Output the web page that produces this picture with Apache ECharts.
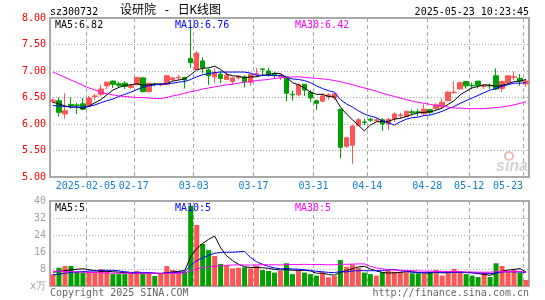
<!DOCTYPE html>
<html><head><meta charset="utf-8">
<script src="https://cdn.jsdelivr.net/npm/echarts@6/dist/echarts.min.js"></script>
<style>html,body{margin:0;padding:0;background:#fff}#c{width:545px;height:300px}</style>
</head><body><div id="c"></div>
<script>
const dates = ['2025-01-20','2025-01-21','2025-01-22','2025-01-23','2025-01-24','2025-01-27',
'2025-02-05','2025-02-06','2025-02-07','2025-02-10','2025-02-11','2025-02-12','2025-02-13','2025-02-14',
'2025-02-17','2025-02-18','2025-02-19','2025-02-20','2025-02-21','2025-02-24','2025-02-25','2025-02-26','2025-02-27','2025-02-28',
'2025-03-03','2025-03-04','2025-03-05','2025-03-06','2025-03-07','2025-03-10','2025-03-11','2025-03-12','2025-03-13','2025-03-14',
'2025-03-17','2025-03-18','2025-03-19','2025-03-20','2025-03-21','2025-03-24','2025-03-25','2025-03-26','2025-03-27','2025-03-28',
'2025-03-31','2025-04-01','2025-04-02','2025-04-03','2025-04-07','2025-04-08','2025-04-09','2025-04-10','2025-04-11',
'2025-04-14','2025-04-15','2025-04-16','2025-04-17','2025-04-18','2025-04-21','2025-04-22','2025-04-23','2025-04-24','2025-04-25',
'2025-04-28','2025-04-29','2025-04-30','2025-05-06','2025-05-07','2025-05-08','2025-05-09',
'2025-05-12','2025-05-13','2025-05-14','2025-05-15','2025-05-16','2025-05-19','2025-05-20','2025-05-21','2025-05-22','2025-05-23'];

const opens = [6.43,6.44,6.19,6.37,6.36,6.38,6.35,6.52,6.56,6.72,
6.81,6.76,6.77,6.69,6.74,6.87,6.61,6.76,6.74,6.75,
6.84,6.87,6.88,7.24,7.03,7.19,7.02,6.89,6.94,6.84,
6.80,6.87,6.89,6.79,6.93,7.04,7.00,6.95,6.89,6.89,
6.56,6.55,6.75,6.60,6.44,6.43,6.52,6.50,6.28,5.58,
5.60,5.97,6.04,6.09,6.06,6.08,6.00,6.10,6.16,6.14,
6.23,6.23,6.19,6.27,6.29,6.33,6.44,6.59,6.66,6.80,
6.73,6.81,6.71,6.73,6.91,6.67,6.78,6.88,6.86,6.76];
const closes = [6.45,6.22,6.25,6.35,6.35,6.28,6.49,6.53,6.66,6.79,
6.75,6.73,6.71,6.72,6.88,6.61,6.77,6.75,6.76,6.91,
6.87,6.88,6.83,7.16,7.34,7.06,6.91,6.97,6.86,6.92,
6.87,6.90,6.80,6.94,6.95,7.03,6.94,6.92,6.91,6.58,
6.55,6.74,6.64,6.49,6.39,6.53,6.55,6.57,5.56,5.74,
5.96,6.08,6.03,6.07,6.08,6.00,6.09,6.19,6.17,6.24,
6.21,6.22,6.28,6.22,6.36,6.41,6.60,6.60,6.78,6.72,
6.72,6.73,6.73,6.72,6.66,6.80,6.91,6.89,6.81,6.81];
const lows = [6.39,6.14,6.10,6.29,6.19,6.26,6.33,6.45,6.52,6.66,
6.68,6.68,6.66,6.66,6.73,6.60,6.60,6.71,6.71,6.73,
6.80,6.83,6.67,7.06,7.02,6.96,6.74,6.78,6.77,6.82,
6.74,6.84,6.69,6.72,6.89,6.90,6.89,6.87,6.83,6.43,
6.44,6.52,6.53,6.41,6.27,6.41,6.46,6.45,5.35,5.55,
5.25,5.96,5.98,6.04,6.04,5.87,5.89,6.04,6.10,6.13,
6.16,6.15,6.18,6.18,6.27,6.30,6.43,6.58,6.66,6.67,
6.66,6.67,6.66,6.66,6.64,6.60,6.74,6.83,6.72,6.70];
const highs = [6.48,6.50,6.58,6.50,6.40,6.49,6.53,6.57,6.74,6.80,
6.82,6.80,6.81,6.76,6.89,6.89,6.78,6.78,6.78,6.92,
6.89,6.93,6.89,7.86,7.38,7.26,7.05,7.05,7.00,6.99,
6.89,6.92,6.92,6.94,7.06,7.04,7.06,6.97,6.94,6.89,
6.63,6.77,6.75,6.64,6.46,6.58,6.58,6.58,6.28,5.75,
5.99,6.11,6.10,6.12,6.11,6.11,6.11,6.22,6.21,6.25,
6.27,6.28,6.37,6.27,6.39,6.48,6.62,6.80,6.80,6.80,
6.78,6.81,6.75,6.76,7.05,6.82,6.91,6.99,6.94,6.84];

const ma5 = [6.41,6.38,6.34,6.32,6.32,6.29,6.34,6.40,6.46,6.55,
6.64,6.69,6.73,6.74,6.76,6.73,6.74,6.75,6.75,6.76,
6.81,6.83,6.85,6.93,7.02,7.05,7.06,7.09,7.03,6.94,
6.91,6.90,6.87,6.89,6.89,6.92,6.93,6.96,6.95,6.88,
6.78,6.74,6.68,6.60,6.56,6.56,6.52,6.51,6.32,6.19,
6.08,5.98,5.87,5.98,6.04,6.05,6.05,6.09,6.11,6.14,
6.18,6.21,6.22,6.23,6.26,6.30,6.37,6.44,6.55,6.62,
6.68,6.71,6.74,6.73,6.71,6.73,6.76,6.80,6.81,6.84];
const ma10 = [6.35,6.34,6.33,6.32,6.32,6.32,6.33,6.36,6.40,6.44,
6.47,6.52,6.56,6.60,6.65,6.69,6.72,6.74,6.75,6.76,
6.77,6.79,6.80,6.84,6.89,6.93,6.95,6.97,6.98,6.98,
6.98,6.98,6.98,6.96,6.92,6.92,6.92,6.91,6.92,6.88,
6.85,6.84,6.82,6.78,6.72,6.67,6.63,6.60,6.46,6.38,
6.32,6.25,6.19,6.15,6.12,6.06,6.02,5.98,6.04,6.09,
6.12,6.13,6.16,6.17,6.20,6.24,6.29,6.33,6.39,6.44,
6.49,6.54,6.59,6.64,6.67,6.71,6.74,6.77,6.77,6.78];
const ma30 = [6.98,6.93,6.88,6.83,6.78,6.73,6.68,6.64,6.60,6.57,
6.55,6.53,6.52,6.51,6.50,6.50,6.49,6.48,6.48,6.50,
6.53,6.55,6.58,6.61,6.63,6.66,6.68,6.70,6.72,6.74,
6.75,6.77,6.79,6.80,6.82,6.83,6.84,6.86,6.87,6.88,
6.89,6.89,6.88,6.87,6.86,6.85,6.84,6.82,6.80,6.77,
6.74,6.71,6.68,6.65,6.62,6.58,6.55,6.52,6.49,6.46,
6.43,6.41,6.39,6.37,6.35,6.34,6.32,6.30,6.30,6.29,
6.29,6.29,6.29,6.30,6.31,6.32,6.34,6.36,6.39,6.42];

const volumes = [5.5,8.6,9.4,9.4,6.7,6.4,6.7,6.7,8.0,6.7,
5.6,5.6,5.6,6.0,7.1,5.6,6.0,4.7,5.6,9.4,
7.5,7.1,6.7,37.8,28.7,19.8,16.9,14.1,10.4,9.6,
8.3,8.6,8.8,8.3,9.6,7.5,7.1,6.3,7.1,10.7,
5.6,7.5,6.3,5.6,4.9,6.3,4.1,4.7,12.2,9.1,
10.2,8.6,6.3,5.6,4.9,6.4,7.5,6.7,6.7,6.4,
6.0,6.0,6.0,6.7,7.5,4.9,6.4,8.0,6.4,5.6,
4.9,4.2,6.3,4.2,10.7,9.4,7.1,7.5,6.3,2.8];
const volMa5 = [6.5,6.8,7.2,7.6,7.9,8.1,7.7,7.2,6.9,6.9,
6.7,6.5,6.3,5.9,6.0,6.0,6.1,5.9,5.8,6.3,
6.6,6.9,7.3,13.7,17.6,20.0,22.0,23.5,18.0,14.2,
11.9,10.2,9.1,8.7,8.7,8.6,8.3,7.8,7.5,7.7,
7.4,7.4,7.4,7.1,6.0,6.1,5.4,5.1,6.4,7.3,
8.1,9.0,9.3,8.0,7.1,6.4,6.1,6.2,6.4,6.7,
6.7,6.4,6.2,6.2,6.4,6.2,6.3,6.7,6.6,6.3,
6.3,5.8,5.5,5.0,6.1,7.0,7.5,7.8,8.2,6.6];
const volMa10 = [5.2,5.6,6.0,6.4,6.6,6.8,7.0,7.1,7.3,7.4,
7.4,7.1,6.7,6.4,6.4,6.4,6.3,6.1,5.9,6.1,
6.3,6.5,6.6,9.8,11.9,13.3,14.4,15.4,15.8,15.9,
15.9,16.1,16.3,13.4,11.4,10.2,9.2,8.5,8.1,8.2,
8.0,7.9,7.6,7.3,6.9,6.7,6.4,6.3,6.8,6.6,
7.1,7.2,7.2,7.2,7.2,7.2,7.6,7.8,7.2,6.9,
6.5,6.3,6.2,6.3,6.6,6.4,6.3,6.5,6.4,6.4,
6.2,6.1,6.1,5.8,6.2,6.6,6.7,6.6,6.6,6.3];
const volMa30 = [7.0,6.9,6.8,6.7,6.6,6.5,6.4,6.3,6.2,6.1,
6.0,6.0,6.0,6.0,6.0,6.0,6.0,6.0,6.0,6.0,
6.0,6.0,6.1,7.2,8.1,8.6,9.0,9.3,9.5,9.7,
9.9,9.9,9.9,9.8,9.9,10.0,10.0,10.0,9.9,10.1,
10.1,10.1,10.2,10.1,10.1,10.1,10.0,10.0,10.3,10.2,
10.3,10.4,10.4,9.3,8.5,8.1,7.7,7.5,7.4,7.3,
7.2,7.1,7.0,7.0,6.9,6.8,6.8,6.8,6.8,6.6,
6.6,6.5,6.5,6.5,6.7,6.8,6.9,6.9,6.8,6.5];

const labelIdx = [6,14,24,34,44,53,63,70,79];
const priceTicks = {min:5, max:8, interval:0.5};
const volTicks = {min:0, max:40, interval:8};

const MONO = "'DejaVu Sans Mono', monospace";
const UP = '#ff5555', DOWN = '#00a000';
const isTick = (i) => labelIdx.indexOf(i) >= 0;

const candleData = opens.map((o, i) => [o, closes[i], lows[i], highs[i]]);
const volData = volumes.map((v, i) => ({value: v, itemStyle: {color: closes[i] >= opens[i] ? UP : DOWN}}));

const vSplit = {show: true, interval: (i) => isTick(i), lineStyle: {color: '#aaa', width: 1, type: [4, 3]}};
const hSplit = {show: true, lineStyle: {color: '#aaa', width: 1, type: [1, 2]}};
const line = (name, data, color, xi, yi) => ({
  name, type: 'line', data, xAxisIndex: xi, yAxisIndex: yi, symbol: 'none', showSymbol: false,
  lineStyle: {color, width: 1}, z: 5, silent: true
});

const chart = echarts.init(document.getElementById('c'), null, {renderer: 'canvas'});
chart.setOption({
  animation: false,
  backgroundColor: '#fff',
  grid: [
    {left: 50, top: 18, width: 479, height: 159, show: true, borderColor: '#a8a8a8', borderWidth: 2, backgroundColor: 'transparent'},
    {left: 50, top: 201, width: 479, height: 85, show: true, borderColor: '#a8a8a8', borderWidth: 2, backgroundColor: 'transparent'}
  ],
  xAxis: [
    {type: 'category', gridIndex: 0, data: dates, boundaryGap: true,
     axisLine: {show: false}, axisTick: {show: false}, splitLine: vSplit,
     axisLabel: {show: true, interval: (i) => isTick(i), margin: 4,
       formatter: (v, i) => i === 6 ? '{a|' + v + '}' : (i === 79 ? '{b|' + v.slice(5) + '}' : '{a|' + v.slice(5) + '}'),
       rich: {
         a: {padding: [0, 6, 0, 0], color: '#1080d0', fontFamily: MONO, fontSize: 10},
         b: {padding: [0, 36, 0, 0], color: '#1080d0', fontFamily: MONO, fontSize: 10}
       }}},
    {type: 'category', gridIndex: 1, data: dates, boundaryGap: true,
     axisLine: {show: false}, axisTick: {show: false}, axisLabel: {show: false}, splitLine: vSplit}
  ],
  yAxis: [
    {type: 'value', gridIndex: 0, min: priceTicks.min, max: priceTicks.max, interval: priceTicks.interval,
     axisLine: {show: false}, axisTick: {show: false}, splitLine: hSplit,
     axisLabel: {color: '#ff0000', fontFamily: MONO, fontSize: 10, margin: 4, formatter: (v) => v.toFixed(2)}},
    {type: 'value', gridIndex: 1, min: volTicks.min, max: volTicks.max, interval: volTicks.interval,
     axisLine: {show: false}, axisTick: {show: false}, splitLine: hSplit,
     axisLabel: {color: '#a0a0a0', fontFamily: MONO, fontSize: 10, margin: 4, formatter: (v) => v === 0 ? 'x万' : String(v)}}
  ],
  series: [
    {type: 'candlestick', xAxisIndex: 0, yAxisIndex: 0, data: candleData, barWidth: 5, silent: true,
     itemStyle: {color: UP, color0: DOWN, borderColor: UP, borderColor0: DOWN, borderWidth: 1}},
    line('MA5', ma5, '#000000', 0, 0),
    line('MA10', ma10, '#0000ff', 0, 0),
    line('MA30', ma30, '#ff00ff', 0, 0),
    {type: 'bar', xAxisIndex: 1, yAxisIndex: 1, data: volData, barWidth: 5, silent: true},
    line('VMA5', volMa5, '#000000', 1, 1),
    line('VMA10', volMa10, '#0000ff', 1, 1),
    line('VMA30', volMa30, '#ff00ff', 1, 1)
  ],
  graphic: [
    {type: 'text', x: 50, y: 12, style: {text: 'sz300732', fill: '#000', font: '10px ' + MONO, align: 'left', verticalAlign: 'middle'}},
    {type: 'text', x: 120, y: 11, style: {text: '设研院 - 日K线图', fill: '#000', font: "12px 'DejaVu Sans Mono', 'Noto Sans CJK SC'", align: 'left', verticalAlign: 'middle'}},
    {type: 'text', x: 529, y: 12, style: {text: '2025-05-23 10:23:45', fill: '#000', font: '10px ' + MONO, align: 'right', verticalAlign: 'middle'}},
    {type: 'text', x: 55, y: 25, z: 10, style: {text: 'MA5:6.82', fill: '#000', font: '10px ' + MONO, align: 'left', verticalAlign: 'middle'}},
    {type: 'text', x: 175, y: 25, z: 10, style: {text: 'MA10:6.76', fill: '#0000ff', font: '10px ' + MONO, align: 'left', verticalAlign: 'middle'}},
    {type: 'text', x: 295, y: 25, z: 10, style: {text: 'MA30:6.42', fill: '#ff00ff', font: '10px ' + MONO, align: 'left', verticalAlign: 'middle'}},
    {type: 'text', x: 55, y: 208, z: 10, style: {text: 'MA5:5', fill: '#000', font: '10px ' + MONO, align: 'left', verticalAlign: 'middle'}},
    {type: 'text', x: 175, y: 208, z: 10, style: {text: 'MA10:5', fill: '#0000ff', font: '10px ' + MONO, align: 'left', verticalAlign: 'middle'}},
    {type: 'text', x: 295, y: 208, z: 10, style: {text: 'MA30:5', fill: '#ff00ff', font: '10px ' + MONO, align: 'left', verticalAlign: 'middle'}},
    {type: 'text', x: 50, y: 293, style: {text: 'Copyright 2025 SINA.COM', fill: '#666', font: '10px ' + MONO, align: 'left', verticalAlign: 'middle'}},
    {type: 'text', x: 529, y: 293, style: {text: 'http://finance.sina.com.cn', fill: '#666', font: '10px ' + MONO, align: 'right', verticalAlign: 'middle'}},
    {type: 'circle', z: 1, shape: {cx: 509, cy: 156, r: 4}, style: {fill: 'none', stroke: '#f2b6b6', lineWidth: 2}},
    {type: 'text', z: 1, x: 512, y: 167, style: {text: 'sina', fill: '#d4d4d4', font: 'italic bold 16px Arial, sans-serif', align: 'center', verticalAlign: 'middle'}}
  ]
});
</script></body></html>
